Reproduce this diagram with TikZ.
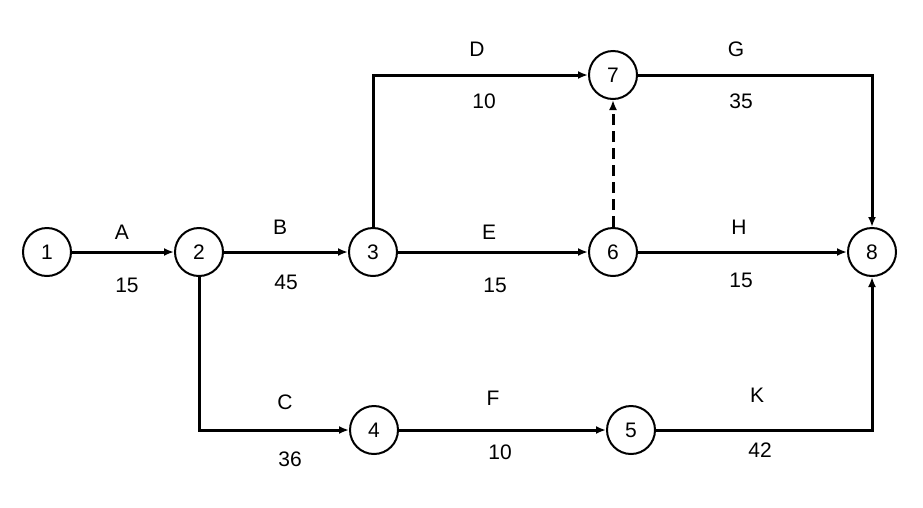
\documentclass[tikz,border=0pt]{standalone}
\usepackage{fontspec}
\setmainfont{Liberation Sans}
\usetikzlibrary{arrows.meta}
\begin{document}
\begin{tikzpicture}[x=1pt,y=-1pt,
  ev/.style={circle,draw,line width=2pt,minimum size=48pt,inner sep=0pt,font=\fontsize{21}{24}\selectfont},
  act/.style={line width=3pt,-{Latex[length=10pt,width=8pt]}},
  lbl/.style={font=\fontsize{21}{24}\selectfont}]
\useasboundingbox (0,0) rectangle (923,507);
\node[ev] (n1) at (47,252) {1};
\node[ev] (n2) at (199,252) {2};
\node[ev] (n3) at (373,252) {3};
\node[ev] (n6) at (613,252) {6};
\node[ev] (n7) at (613,75) {7};
\node[ev] (n8) at (872,252) {8};
\node[ev] (n4) at (374,430) {4};
\node[ev] (n5) at (631,430) {5};
\draw[act] (n1) -- (n2);
\draw[act] (n2) -- (n3);
\draw[act] (n2) |- (n4);
\draw[act] (n3) |- (n7);
\draw[act] (n3) -- (n6);
\draw[act,dash pattern=on 11pt off 6pt] (n6) -- (n7);
\draw[act] (n7) -| (n8);
\draw[act] (n6) -- (n8);
\draw[act] (n4) -- (n5);
\draw[act] (n5) -| (n8);
\node[lbl] (la) at (122,232) {A};
\node[lbl] (va) at (127,285) {15};
\node[lbl] (lb) at (280,227) {B};
\node[lbl] (vb) at (286,282) {45};
\node[lbl] (lc) at (285,402) {C};
\node[lbl] (vc) at (290,459) {36};
\node[lbl] (ld) at (477,49) {D};
\node[lbl] (vd) at (484,101) {10};
\node[lbl] (le) at (489,232) {E};
\node[lbl] (ve) at (495,285) {15};
\node[lbl] (lf) at (493,398) {F};
\node[lbl] (vf) at (500,452) {10};
\node[lbl] (lg) at (736,49) {G};
\node[lbl] (vg) at (741,101) {35};
\node[lbl] (lh) at (739,227) {H};
\node[lbl] (vh) at (741,280) {15};
\node[lbl] (lk) at (757,395) {K};
\node[lbl] (vk) at (760,450) {42};
\end{tikzpicture}
\end{document}
